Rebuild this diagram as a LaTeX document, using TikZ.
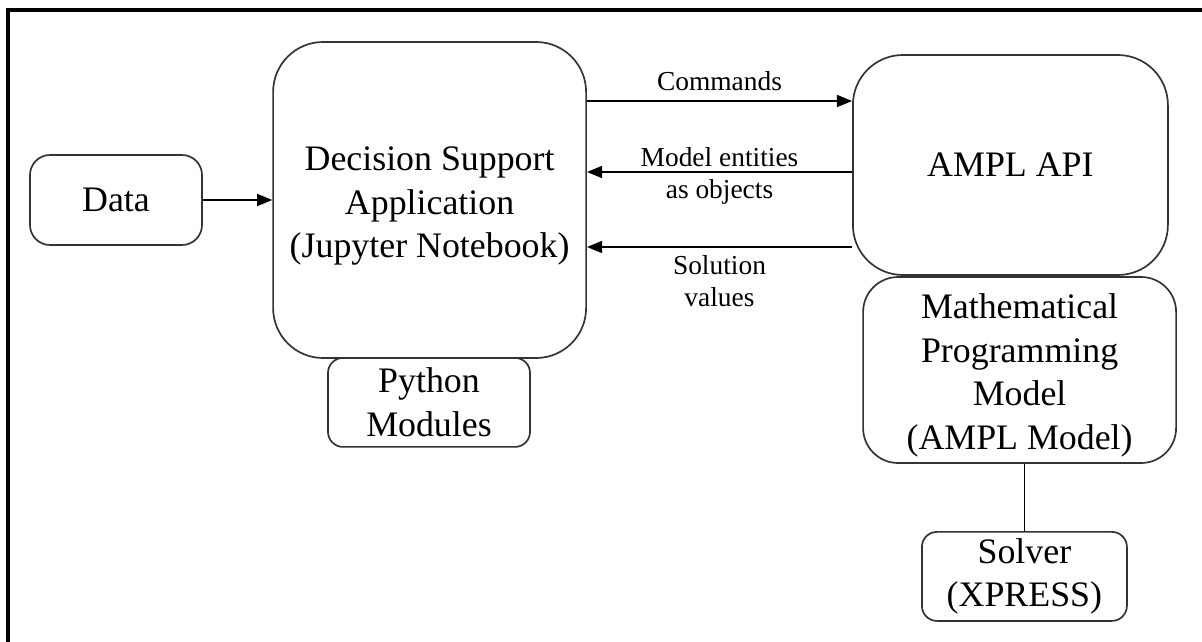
\documentclass[tikz,border=0pt]{standalone}
\usepackage{fontspec}
\setmainfont{Liberation Serif}
\usetikzlibrary{arrows.meta}

\begin{document}
\begin{tikzpicture}[
    box/.style={draw=black!80, line width=1.2pt, align=center, inner sep=0pt,
      font=\fontsize{25.5}{31}\selectfont},
    flow/.style={line width=1.3pt, -{Triangle[length=0.38cm, width=0.3cm]}},
    lbl/.style={align=center, inner sep=0pt, font=\fontsize{19.5}{22.7}\selectfont}
  ]
    \useasboundingbox (0, 0) rectangle (30.05, -16.05);
    \draw[line width=2.6pt] (0.2, -16.05) |- (30.05, -0.25);

    \node[box, rounded corners=0.5cm, minimum width=4.3cm, minimum height=2.25cm]
      (data) at (2.9, -5.0) {Data};
    \node[box, rounded corners=1.25cm, minimum width=7.825cm, minimum height=7.9cm]
      (dsa) at (10.74, -5.0) {\rule{0pt}{0.9cm}Decision Support\\Application\\(Jupyter Notebook)};
    \node[box, rounded corners=0.375cm, minimum width=5.05cm, minimum height=2.225cm]
      (python) at (10.725, -10.06) {Python\\Modules};
    \node[box, rounded corners=1.25cm, minimum width=7.875cm, minimum height=5.5cm]
      (api) at (25.26, -4.125) {AMPL API};
    \node[box, rounded corners=0.875cm, minimum width=7.825cm, minimum height=4.65cm]
      (model) at (25.49, -9.25) {\rule{0pt}{0.9cm}Mathematical\\Programming\\Model\\(AMPL Model)};
    \node[box, rounded corners=0.375cm, minimum width=5.125cm, minimum height=2.225cm]
      (solver) at (25.61, -14.41) {Solver\\(XPRESS)};

    \draw[flow] (data) -- (dsa);

    \draw (dsa.east) ++(0, 2.475) coordinate (cmd);
    \draw[flow] (cmd) -- (cmd -| api.west)
      node[lbl, midway, yshift=0.5cm] {Commands};

    \draw (dsa.east) ++(0, 0.7) coordinate (ent);
    \draw[flow] (ent -| api.west) -- (ent)
      node[lbl, midway, yshift=-0.1cm] {Model entities\\as objects};

    \draw (dsa.east) ++(0, -1.175) coordinate (sol);
    \draw[flow] (sol -| api.west) -- (sol)
      node[lbl, midway, below=0.2cm] {Solution\\values};

    \draw[line width=1pt] (solver.north |- model.south) -- (solver.north);
  \end{tikzpicture}
\end{document}
